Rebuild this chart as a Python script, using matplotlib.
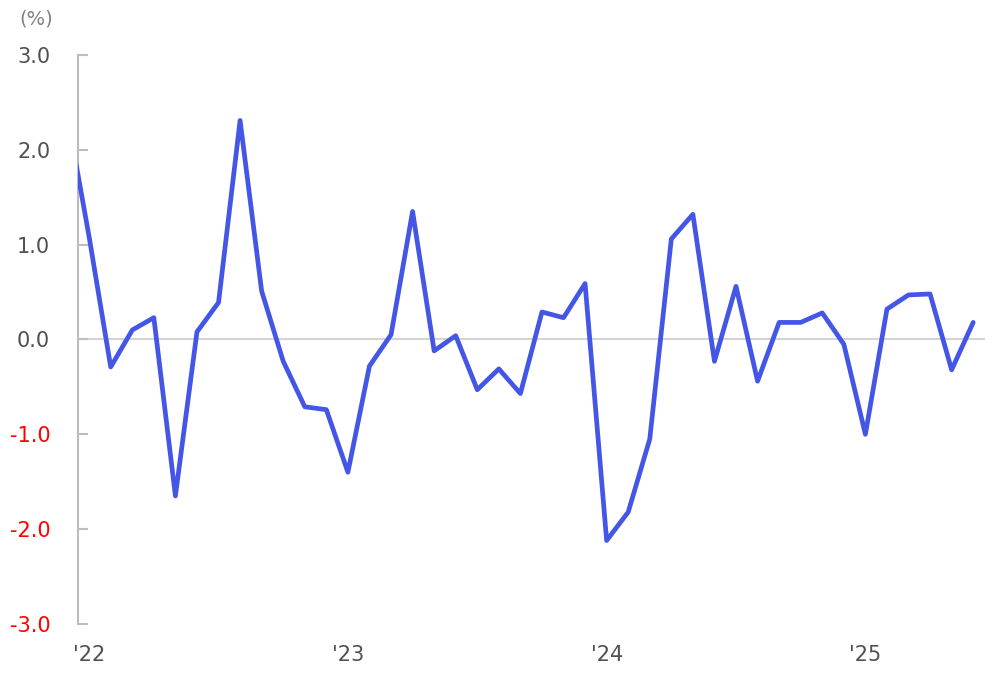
import matplotlib
matplotlib.use("Agg")
import matplotlib.pyplot as plt

# monthly change (%), Dec '21 .. Jun '25 (Dec '21 sits just left of the axis)
months = ["2021-12",
          "2022-01", "2022-02", "2022-03", "2022-04", "2022-05", "2022-06",
          "2022-07", "2022-08", "2022-09", "2022-10", "2022-11", "2022-12",
          "2023-01", "2023-02", "2023-03", "2023-04", "2023-05", "2023-06",
          "2023-07", "2023-08", "2023-09", "2023-10", "2023-11", "2023-12",
          "2024-01", "2024-02", "2024-03", "2024-04", "2024-05", "2024-06",
          "2024-07", "2024-08", "2024-09", "2024-10", "2024-11", "2024-12",
          "2025-01", "2025-02", "2025-03", "2025-04", "2025-05", "2025-06"]
values = [2.35,
          1.08, -0.29, 0.10, 0.23, -1.65, 0.08,
          0.39, 2.31, 0.51, -0.23, -0.71, -0.74,
          -1.40, -0.28, 0.05, 1.35, -0.12, 0.04,
          -0.53, -0.31, -0.57, 0.29, 0.23, 0.59,
          -2.12, -1.82, -1.05, 1.06, 1.32, -0.23,
          0.56, -0.44, 0.18, 0.18, 0.28, -0.05,
          -1.00, 0.32, 0.47, 0.48, -0.32, 0.18]
year_labels = ["'22", "'23", "'24", "'25"]
y_ticks = [3.0, 2.0, 1.0, 0.0, -1.0, -2.0, -3.0]

x = list(range(-1, len(months) - 1))
year_pos = [i for i, m in zip(x, months) if m.endswith("-01")]

fig = plt.figure(figsize=(9.93, 6.76), dpi=100)
ax = fig.add_axes([0.0785, 0.077, 0.9135, 0.8416])

ax.axhline(0, color="#d4d4d4", lw=1.5, zorder=1)
ax.plot(x, values, color="#4356E6", lw=3.4, solid_joinstyle="round",
        solid_capstyle="round", zorder=3)

ax.set_xlim(-0.52, len(months) - 1.45)
ax.set_ylim(-3, 3)

for s in ["top", "right", "bottom"]:
    ax.spines[s].set_visible(False)
ax.spines["left"].set_color("#bdbdbd")
ax.spines["left"].set_linewidth(1.5)

ax.set_yticks(y_ticks)
ax.set_yticklabels([f"{v:.1f}" for v in y_ticks])
ax.tick_params(axis="y", direction="in", length=7, width=1.5, color="#bdbdbd",
               pad=20, labelsize=15)
for lab, v in zip(ax.get_yticklabels(), y_ticks):
    lab.set_color("#ff0000" if v < 0 else "#505050")

ax.set_xticks(year_pos)
ax.set_xticklabels(year_labels)
ax.tick_params(axis="x", length=0, pad=15, labelsize=15, labelcolor="#505050")

fig.text(0.02, 0.972, "(%)", fontsize=14, color="#808080", va="center", ha="left")

fig.savefig("out.png", dpi=100)
